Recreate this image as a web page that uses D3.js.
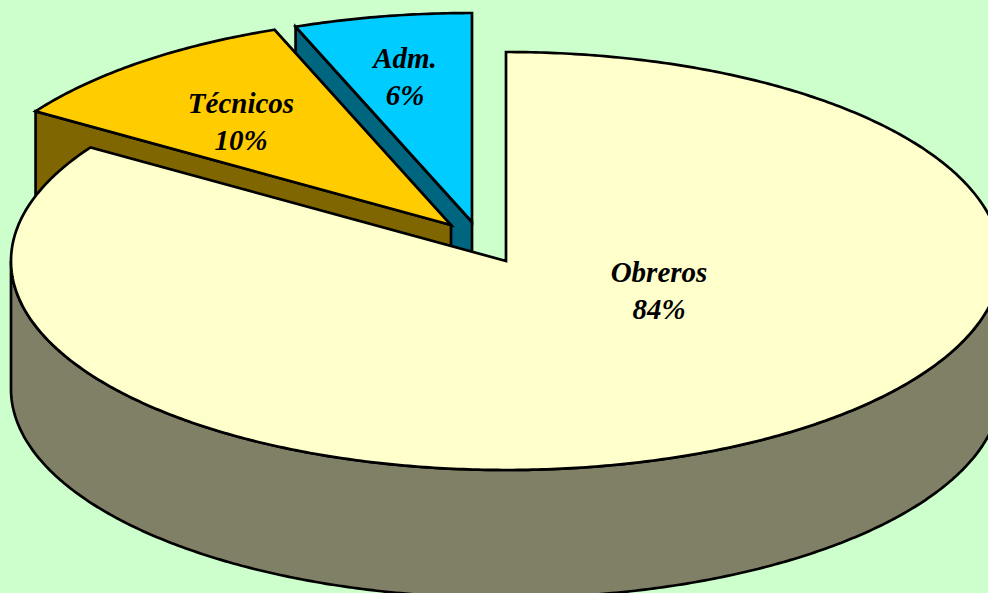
<!DOCTYPE html>
<html>
<head>
<meta charset="utf-8">
<script src="https://cdn.jsdelivr.net/npm/d3@7"></script>
<style>
html,body{margin:0;padding:0;background:#CCFFCC;overflow:hidden}
svg{display:block}
text{font-family:"Liberation Serif","Times New Roman",serif;font-weight:bold;font-style:italic;fill:#000;text-anchor:middle}
</style>
</head>
<body>
<svg id="c" width="988" height="593"></svg>
<script>
const categories = ["Obreros", "Técnicos", "Adm."];
const values = [84.15, 10.05, 5.8];
const percentLabels = ["84%", "10%", "6%"];
const topColors = ["#FFFFCC", "#FFCC00", "#00CCFF"];
const sideColors = ["#808066", "#806600", "#006680"];

const W = 988, H = 593;
const RX = 495, RY = 209, DEPTH = 128;
const centers = [[506, 261], [451, 225], [472, 222]];
const labelAnchors = [[659, 282], [241, 113], [405, 68]];
const LINE_GAP = 37;

const svg = d3.select("#c");
const arcs = d3.pie().sort(null).startAngle(0).endAngle(2 * Math.PI)(values);

const slices = arcs.map((a, i) => {
  const x = d3.scaleLinear().domain([-1, 1]).range([centers[i][0] - RX, centers[i][0] + RX]);
  const y = d3.scaleLinear().domain([-1, 1]).range([centers[i][1] + RY, centers[i][1] - RY]);
  return { a, i, x, y };
});

const line = d3.line();
function rim(s, a0, a1, dy) {
  const n = Math.max(2, Math.ceil(Math.abs(a1 - a0) / 0.01));
  return d3.range(n + 1).map(k => {
    const t = a0 + (a1 - a0) * k / n;
    return [s.x(Math.sin(t)), s.y(Math.cos(t)) + dy];
  });
}
const stroke = g => g.attr("stroke", "#000").attr("stroke-width", 2.7).attr("stroke-linejoin", "miter");

// Paint from back to front: Adm., Técnicos, then Obreros.
[2, 1, 0].forEach(i => {
  const s = slices[i];
  const c = centers[i];
  const a0 = s.a.startAngle, a1 = s.a.endAngle;
  if (i === 0) {
    // outer wall of the large slice, on the near half of the ellipse
    const pts = rim(s, Math.PI / 2, 3 * Math.PI / 2, 0)
      .concat(rim(s, 3 * Math.PI / 2, Math.PI / 2, DEPTH));
    svg.append("path").attr("d", line(pts) + "Z").attr("fill", sideColors[i]).call(stroke);
  } else {
    // cut face seen from the front
    const far = rim(s, a0, a0, 0)[0];
    const pts = [c, far, [far[0], far[1] + DEPTH], [c[0], c[1] + DEPTH]];
    svg.append("path").attr("d", line(pts) + "Z").attr("fill", sideColors[i]).call(stroke);
  }
  const top = [c].concat(rim(s, a0, a1, 0));
  svg.append("path").attr("d", line(top) + "Z").attr("fill", topColors[i]).call(stroke);
});

categories.forEach((name, i) => {
  const [lx, ly] = labelAnchors[i];
  const t = svg.append("text").attr("font-size", 29);
  t.append("tspan").attr("x", lx).attr("y", ly).text(name);
  t.append("tspan").attr("x", lx).attr("y", ly + LINE_GAP).text(percentLabels[i]);
});
</script>
</body>
</html>
